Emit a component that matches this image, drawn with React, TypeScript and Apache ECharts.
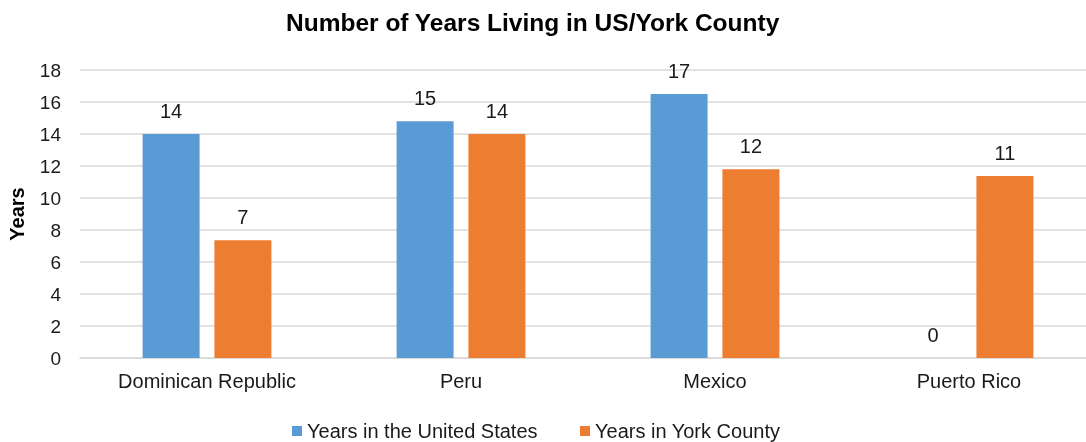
import React, { useEffect, useRef } from "react";
import * as echarts from "echarts";

const categories = ["Dominican Republic", "Peru", "Mexico", "Puerto Rico"];
const yearsInUS = [14.0, 14.8, 16.5, 0];
const yearsInYork = [7.36, 14.0, 11.8, 11.37];
const seriesNames = ["Years in the United States", "Years in York County"];
const yTicks = { min: 0, max: 18, step: 2 };

const FONT = "'Liberation Sans', Arial, sans-serif";
const TEXT = "#1a1a1a";

export default function App() {
  const ref = useRef<HTMLDivElement>(null);
  useEffect(() => {
    if (!ref.current) return;
    const chart = echarts.init(ref.current, undefined, { renderer: "svg" });
    const label = {
      show: true,
      position: "top",
      distance: 13,
      color: TEXT,
      fontSize: 20,
      fontFamily: FONT,
      formatter: (p: any) => String(Math.round(p.value)),
    };
    const legendText = { fontSize: 20, color: TEXT, fontFamily: FONT };
    chart.setOption({
      animation: false,
      textStyle: { fontFamily: FONT },
      title: {
        text: "Number of Years Living in US/York County",
        left: 286,
        top: 10,
        padding: 0,
        textStyle: { fontSize: 24.5, fontWeight: "bold", color: "#000", fontFamily: FONT },
      },
      legend: [
        {
          top: 421,
          left: 292,
          padding: 0,
          itemWidth: 10,
          itemHeight: 10,
          icon: "rect",
          textStyle: legendText,
          data: [seriesNames[0]],
        },
        {
          top: 421,
          left: 580,
          padding: 0,
          itemWidth: 10,
          itemHeight: 10,
          icon: "rect",
          textStyle: legendText,
          data: [seriesNames[1]],
        },
      ],
      grid: { left: 80, top: 70, bottom: 84, right: 0, outerBoundsMode: "none", containLabel: false },
      xAxis: {
        type: "category",
        data: categories,
        axisLine: { lineStyle: { color: "#D9D9D9", width: 1.5 } },
        axisTick: { show: false },
        axisLabel: { fontSize: 20, color: TEXT, margin: 13, fontFamily: FONT },
      },
      yAxis: {
        type: "value",
        min: yTicks.min,
        max: yTicks.max,
        interval: yTicks.step,
        name: "Years",
        nameLocation: "middle",
        nameGap: 53,
        nameTextStyle: { fontSize: 20, fontWeight: "bold", color: "#000", fontFamily: FONT },
        axisLine: { show: false },
        axisTick: { show: false },
        splitLine: { lineStyle: { color: "#D9D9D9", width: 1.5 } },
        axisLabel: { fontSize: 19, color: TEXT, margin: 19, fontFamily: FONT },
      },
      series: [
        {
          name: seriesNames[0],
          type: "bar",
          data: yearsInUS,
          barWidth: 57,
          barGap: "26%",
          itemStyle: { color: "#5B9BD5" },
          label,
        },
        {
          name: seriesNames[1],
          type: "bar",
          data: yearsInYork,
          barWidth: 57,
          barGap: "26%",
          itemStyle: { color: "#ED7D31" },
          label,
        },
      ],
    });
    return () => chart.dispose();
  }, []);
  return (
    <div
      ref={ref}
      style={{ position: "fixed", left: 0, top: 0, width: 1096, height: 442 }}
    />
  );
}
